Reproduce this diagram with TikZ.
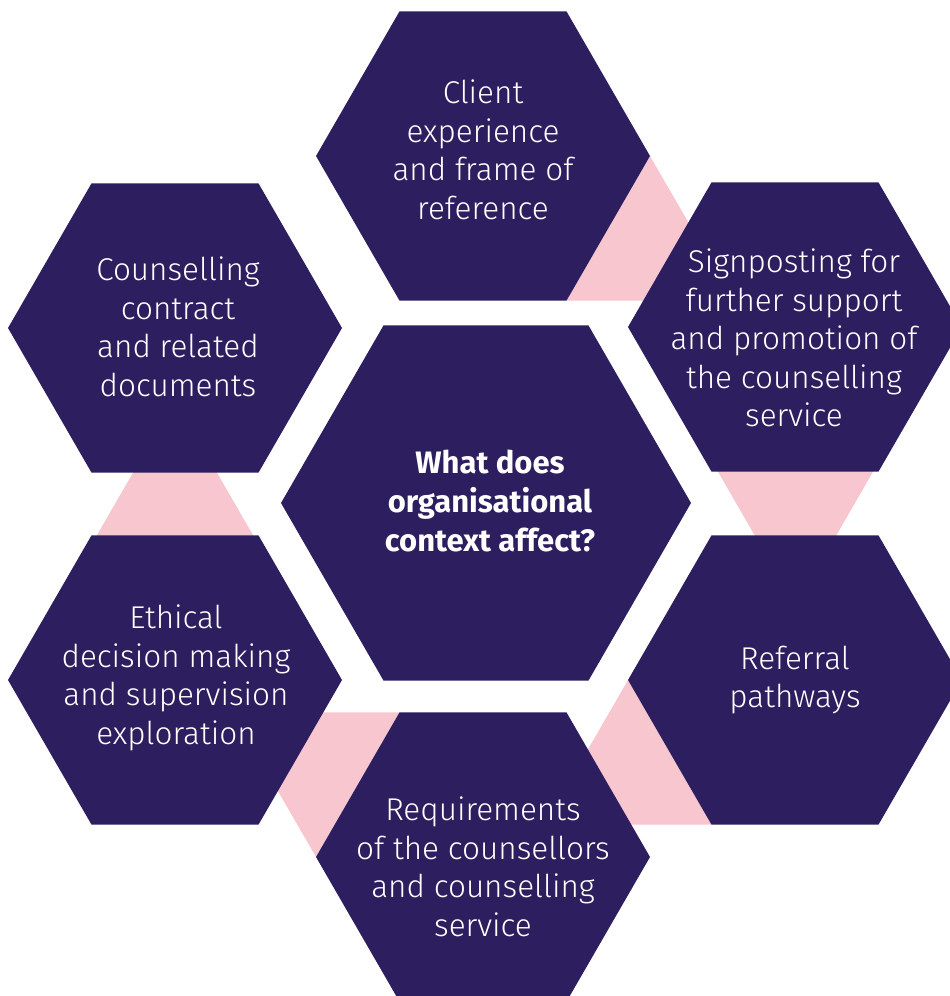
\documentclass[tikz,border=0pt]{standalone}
\usepackage{fontspec}
\setmainfont{Fira Sans}[UprightFont=* Light, BoldFont=* Bold]
\begin{document}
\begin{tikzpicture}[x=1pt,y=-1pt]
\definecolor{hexpurple}{RGB}{44,30,95}
\definecolor{linkpink}{RGB}{247,198,206}
\tikzset{
  hexfill/.style={fill=hexpurple},
  linkfill/.style={fill=linkpink},
  hextext/.style={text=white, align=center, inner sep=0pt, font=\fontsize{31.5}{38.6}\selectfont},
  hubtext/.style={hextext, font=\fontsize{31}{38.6}\selectfont\bfseries}
}
\clip (0,0) rectangle (950,996);
% hexagon centres
\coordinate (cTop) at (483,156);
\coordinate (cUR) at (795,327);
\coordinate (cLR) at (795,680);
\coordinate (cBot) at (483,857);
\coordinate (cLL) at (175,680);
\coordinate (cUL) at (175,328);
\coordinate (cHub) at (486,503);
% pink links
\fill[linkfill] (650,156) -- (566.5,300.6) -- (733.5,300.6) -- cycle;
\fill[linkfill] (795.5,606) -- (712,461.4) -- (879,461.4) -- cycle;
\fill[linkfill] (628,680) -- (544.5,824.6) -- (711.5,824.6) -- cycle;
\fill[linkfill] (316,857) -- (232.5,712.4) -- (399.5,712.4) -- cycle;
\fill[linkfill] (175,400) -- (91.5,544.6) -- (258.5,544.6) -- cycle;
% hexagons
\foreach \c/\r in {cTop/167,cUR/167,cLR/167,cBot/167,cLL/167,cUL/167,cHub/205}
  \fill[hexfill] (\c) +(0:\r) -- +(60:\r) -- +(120:\r) -- +(180:\r) -- +(240:\r) -- +(300:\r) -- cycle;
% texts
\node[hextext] (tTop) at (483,150) {Client\\experience\\and frame of\\reference};
\node[hextext] (tUR) at (794,338) {Signposting for\\further support\\and promotion of\\the counselling\\service};
\node[hextext] (tUL) at (178,327) {Counselling\\contract\\and related\\documents};
\node[hextext] (tLL) at (176,678) {Ethical\\decision making\\and supervision\\exploration};
\node[hextext] (tLR) at (795,680) {Referral\\pathways};
\node[hextext] (tBot) at (483,867) {Requirements\\of the counsellors\\and counselling\\service};
\node[hubtext] (tHub) at (490,501) {What does\\organisational\\context affect?};
\end{tikzpicture}
\end{document}
